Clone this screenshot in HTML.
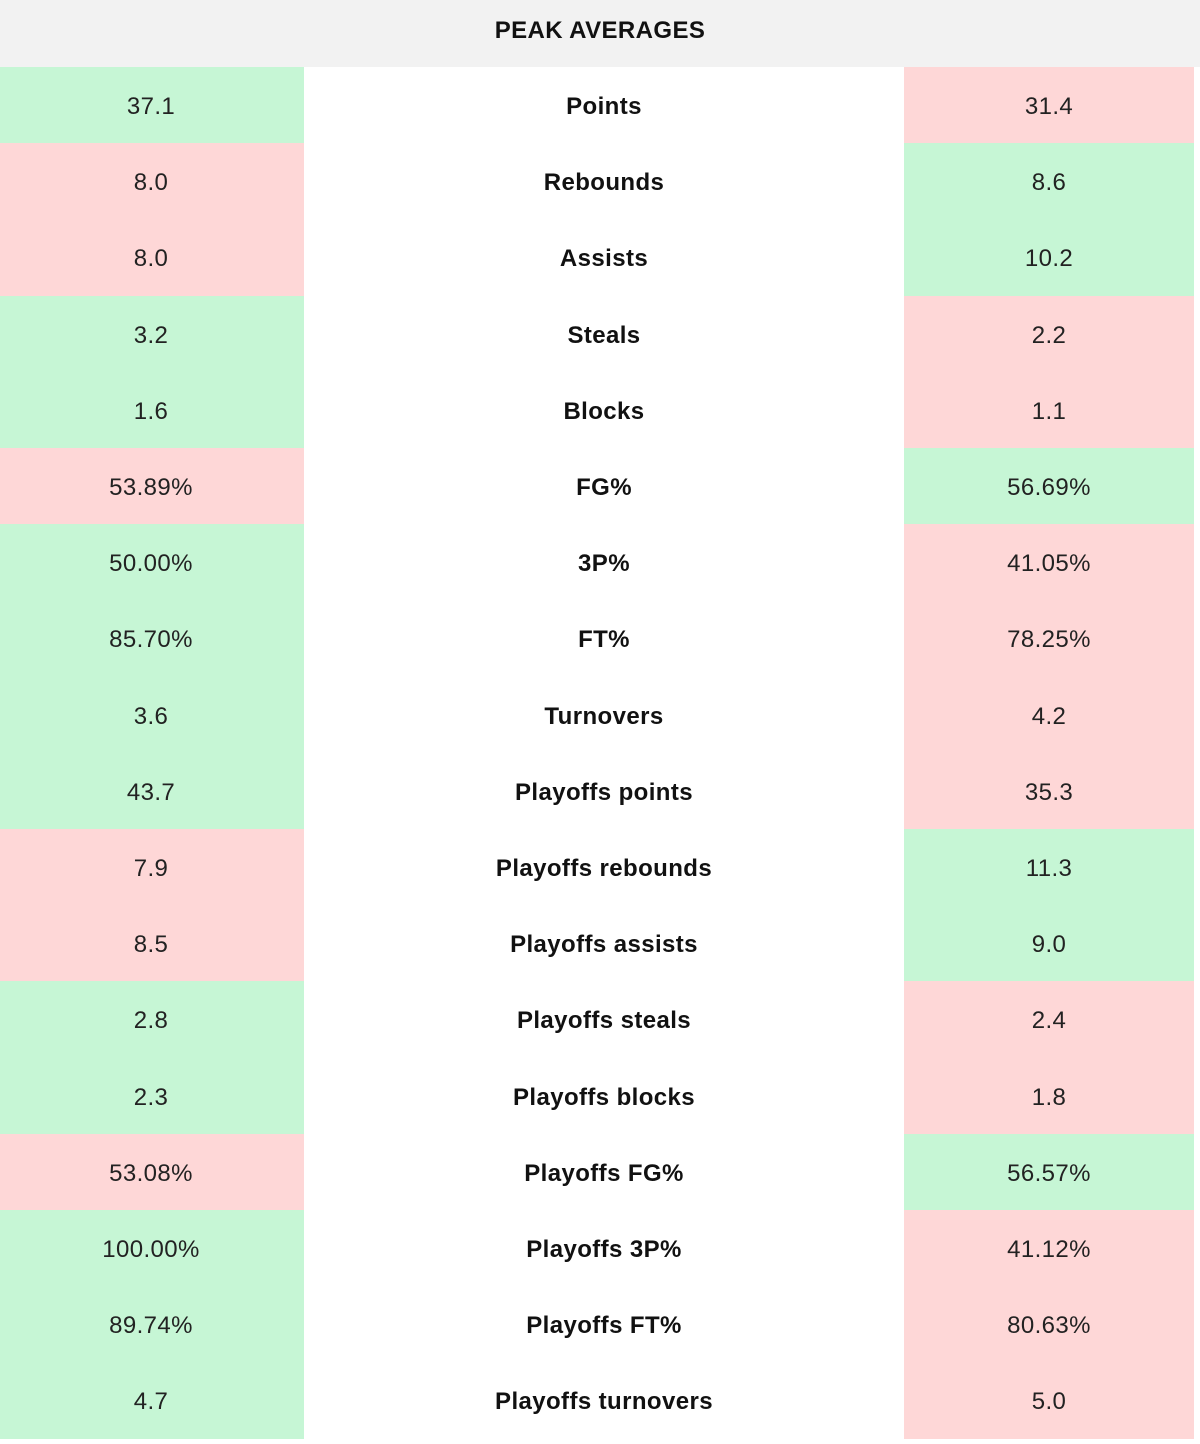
<!DOCTYPE html><html><head><style>
body{margin:0;width:1200px;height:1444px;background:#fff;font-family:"Liberation Sans",Arial,sans-serif;}
.h{position:absolute;left:0;top:0;width:1200px;height:67px;background:#f2f2f2;text-align:center;line-height:62px;font-weight:bold;font-size:24px;letter-spacing:0.4px;color:#111;}
.r{position:absolute;left:0;width:1194px;height:76.2px;font-size:24px;letter-spacing:0.4px;color:#222;}
.r div{position:absolute;top:0;height:100%;display:flex;align-items:center;justify-content:center;padding-top:4px;box-sizing:border-box;}
.a{left:0;width:302px;margin-right:2px}.m{left:304px;width:600px;font-weight:bold;color:#111}.b{left:904px;width:290px}
.r div.a{width:304px;padding-right:2px}
.g{background:#c6f6d5}.p{background:#fed7d7}
</style></head><body>
<div class="h">PEAK AVERAGES</div>
<div id="t"></div>
<script>
var d=[["37.1","Points","31.4",1],["8.0","Rebounds","8.6",0],["8.0","Assists","10.2",0],["3.2","Steals","2.2",1],["1.6","Blocks","1.1",1],["53.89%","FG%","56.69%",0],["50.00%","3P%","41.05%",1],["85.70%","FT%","78.25%",1],["3.6","Turnovers","4.2",1],["43.7","Playoffs points","35.3",1],["7.9","Playoffs rebounds","11.3",0],["8.5","Playoffs assists","9.0",0],["2.8","Playoffs steals","2.4",1],["2.3","Playoffs blocks","1.8",1],["53.08%","Playoffs FG%","56.57%",0],["100.00%","Playoffs 3P%","41.12%",1],["89.74%","Playoffs FT%","80.63%",1],["4.7","Playoffs turnovers","5.0",1]];
var h="";d.forEach(function(x,i){h+='<div class="r" style="top:'+(67+i*76.2)+'px"><div class="a '+(x[3]?'g':'p')+'">'+x[0]+'</div><div class="m">'+x[1]+'</div><div class="b '+(x[3]?'p':'g')+'">'+x[2]+'</div></div>';});
document.getElementById("t").innerHTML=h;
</script>
</body></html>
